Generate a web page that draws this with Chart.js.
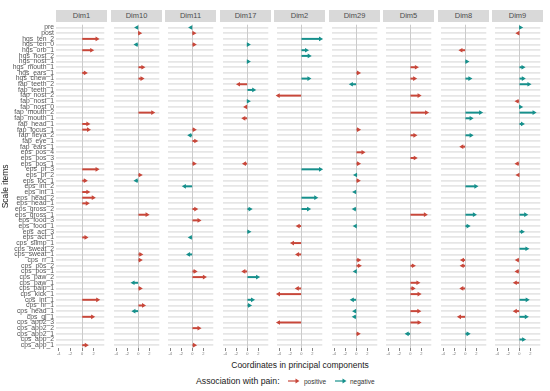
<!DOCTYPE html>
<html>
<head>
<meta charset="utf-8">
<script src="https://cdn.jsdelivr.net/npm/chart.js@4.4.1/dist/chart.umd.min.js"></script>
<style>
html,body{margin:0;padding:0;background:#fff;}
#root{position:relative;width:550px;height:391px;overflow:hidden;font-family:"Liberation Sans",Arial,sans-serif;}
#root canvas{position:absolute;}
.strip{position:absolute;top:10px;height:12px;width:51px;background:#d9d9d9;color:#4d4d4d;font-size:7.5px;line-height:12px;text-align:center;}
.txt{position:absolute;white-space:nowrap;}
</style>
</head>
<body>
<div id="root"></div>
<script>
// ---------- data ----------
const items = [
  "pre","post","hgs_ten_2","hgs_ten_0","hgs_orb_1","hgs_nost_2","hgs_nost_1","hgs_mouth_1","hgs_ears_1","hgs_chew_1",
  "fap_teeth_2","fap_teeth_1","fap_nost_2","fap_nost_1","fap_nost_0","fap_mouth_2","fap_mouth_1","fap_head_1","fap_focus_1","fap_fleya_2",
  "fap_eye_1","fap_ears_1","eps_pos_4","eps_pos_3","eps_pos_1","eps_pf_3","eps_pf_2","eps_loc_1","eps_int_2","eps_int_1",
  "eps_head_2","eps_head_1","eps_gross_2","eps_gross_1","eps_food_3","eps_food_1","eps_act_3","eps_act_1","cps_slimp_1","cps_sweat_2",
  "cps_sweat_1","cps_rr_1","cps_pos_2","cps_pos_1","cps_paw_2","cps_paw_1","cps_palp_1","cps_kick_1","cps_int_1","cps_hr_1",
  "cps_head_1","cps_gl_1","cps_app2_3","cps_app2_2","cps_app2_1","cps_app_2","cps_app_1"
];
const dims = ["Dim1","Dim10","Dim11","Dim17","Dim2","Dim29","Dim5","Dim8","Dim9"];
const xTicks = [-4, -2, 0, 2];
const legendLabels = ["positive", "negative"];

// [item, coordinate] pairs; "Positive" = positive association with pain, "Negative" = negative association
const dim1Positive = [["hgs_ten_2",2.55],["hgs_orb_1",1.63],["hgs_ears_1",0.54],["fap_head_1",0.98],["fap_focus_1",1.08],["eps_pf_3",2.55],["eps_loc_1",0.54],["eps_int_1",0.98],["eps_head_2",1.9],["eps_head_1",0.87],["eps_act_1",0.65],["cps_int_1",2.66],["cps_gl_1",1.79],["cps_app_1",0.7]];
const dim1Negative = [];
const dim10Positive = [["post",0.22],["hgs_mouth_1",0.81],["hgs_chew_1",0.65],["fap_mouth_2",2.6],["eps_pf_2",0.33],["eps_gross_1",1.57],["cps_sweat_1",0.43],["cps_rr_1",0.33],["cps_palp_1",0.33],["cps_hr_1",0.92]];
const dim10Negative = [["pre",-0.27],["hgs_ten_0",-0.38],["eps_loc_1",-0.38],["cps_paw_1",-0.92],["cps_head_1",-0.76]];
const dim11Positive = [["post",0.27],["hgs_ten_0",0.33],["fap_focus_1",0.33],["fap_eye_1",0.6],["eps_pos_1",0.33],["eps_gross_2",0.6],["eps_food_3",1.19],["cps_pos_1",0.49],["cps_paw_2",2.17],["cps_app2_2",1.19],["cps_app_1",0.38]];
const dim11Negative = [["pre",-0.27],["fap_fleya_2",-0.43],["eps_int_2",-1.41],["eps_act_1",-0.33],["cps_sweat_1",-0.65]];
const dim17Positive = [["fap_teeth_2",-1.57],["fap_nost_0",-0.27],["fap_mouth_1",-0.6],["eps_pos_1",-0.49],["cps_pos_1",-0.6]];
const dim17Negative = [["hgs_ten_0",0.16],["hgs_nost_1",0.16],["fap_teeth_1",1.14],["fap_nost_1",0.16],["eps_gross_2",0.49],["eps_act_3",0.27],["cps_paw_2",1.84],["cps_int_1",0.92],["cps_hr_1",0.38]];
const dim2Positive = [["fap_nost_2",-4.17],["eps_food_1",-0.54],["cps_slimp_1",-1.57],["cps_sweat_1",-0.65],["cps_palp_1",-0.7],["cps_kick_1",-4.12],["cps_app2_3",-4.12]];
const dim2Negative = [["hgs_ten_2",3.47],["hgs_orb_1",0.92],["hgs_nost_2",1.41],["hgs_chew_1",1.36],["eps_pf_3",3.47],["eps_head_2",2.6],["eps_gross_2",1.3]];
const dim29Positive = [["hgs_ears_1",0.38],["fap_focus_1",0.38],["eps_pos_4",1.19],["eps_pos_1",0.38],["eps_loc_1",0.33],["cps_rr_1",0.43],["cps_pos_2",0.54],["cps_app2_1",0.33]];
const dim29Negative = [["fap_teeth_2",-0.87],["eps_pf_2",-0.11],["eps_int_1",-0.27],["eps_gross_2",-0.33],["eps_food_1",-0.16],["cps_pos_1",-0.16],["cps_int_1",-0.7],["cps_head_1",-0.27],["cps_gl_1",-0.33]];
const dim5Positive = [["hgs_mouth_1",1.08],["hgs_chew_1",0.76],["fap_nost_2",1.57],["fap_mouth_2",2.93],["fap_fleya_2",0.81],["eps_pos_3",0.87],["eps_gross_1",2.71],["cps_pos_2",0.54],["cps_paw_1",1.36],["cps_palp_1",0.49],["cps_kick_1",1.57],["cps_head_1",1.52],["cps_app2_3",1.57]];
const dim5Negative = [["cps_app2_1",-0.54]];
const dim8Positive = [["hgs_orb_1",-0.76],["fap_ears_1",-0.6],["cps_rr_1",-0.49],["cps_pos_2",-0.54],["cps_palp_1",-0.6],["cps_gl_1",-1.03]];
const dim8Negative = [["hgs_nost_1",0.27],["hgs_chew_1",0.81],["fap_mouth_2",2.76],["fap_mouth_1",1.03],["fap_fleya_2",1.03],["eps_int_2",1.9],["eps_gross_1",1.63],["eps_food_1",0.49],["cps_app2_1",0.49]];
const dim9Positive = [["post",-0.22],["fap_nost_1",-0.38],["eps_pos_1",-0.38],["eps_pf_2",-0.22],["cps_rr_1",-0.33],["cps_pos_1",-0.38],["cps_paw_1",-0.7],["cps_head_1",-0.7]];
const dim9Negative = [["pre",0.22],["hgs_mouth_1",0.65],["hgs_chew_1",0.7],["fap_teeth_2",1.73],["fap_nost_0",0.22],["fap_mouth_2",2.66],["fap_head_1",0.54],["eps_gross_1",1.14],["eps_act_3",0.54],["cps_sweat_2",1.36],["cps_int_1",1.41],["cps_gl_1",1.25],["cps_app_2",0.76]];

const positiveByDim = [dim1Positive,dim10Positive,dim11Positive,dim17Positive,dim2Positive,dim29Positive,dim5Positive,dim8Positive,dim9Positive];
const negativeByDim = [dim1Negative,dim10Negative,dim11Negative,dim17Negative,dim2Negative,dim29Negative,dim5Negative,dim8Negative,dim9Negative];

// ---------- style ----------
const RED = '#c8473a', TEAL = '#16908c';
const FONT = "'Liberation Sans', Arial, sans-serif";
Chart.defaults.font.family = FONT;
const X_MIN = -4.47, X_MAX = 3.82;
const PANEL_W = 51, PLOT_TOP = 22, PLOT_H = 326, XAXIS_H = 8, YAXIS_W = 56;

const root = document.getElementById('root');

function barData(pairs){
  const arr = items.map(() => null);
  pairs.forEach(([k, v]) => {
    const i = items.indexOf(k);
    if (i < 0) console.error('unknown item', k);
    arr[i] = [0, v];
  });
  return arr;
}
function headData(pairs){ return pairs.map(([k, v]) => ({x: v, y: k})); }

function datasets(pos, neg){
  const mk = (pairs, color) => ([
    {type:'bar', data: barData(pairs), backgroundColor: color, borderWidth: 0, barThickness: 1.3, grouped: false, clip: false},
    {type:'line', indexAxis:'y', data: headData(pairs), showLine: false, pointStyle: 'triangle',
     pointRadius: 2.7, pointHoverRadius: 2.7, pointBorderWidth: 0,
     pointBackgroundColor: color, pointBorderColor: color,
     pointRotation: pairs.map(p => p[1] < 0 ? -90 : 90), clip: false}
  ]);
  return [...mk(pos, RED), ...mk(neg, TEAL)];
}

dims.forEach((name, d) => {
  const left = Math.round(56 + 54.5 * d);
  const first = d === 0;
  const strip = document.createElement('div');
  strip.className = 'strip';
  strip.style.left = left + 'px';
  strip.textContent = name;
  root.appendChild(strip);

  const cv = document.createElement('canvas');
  const w = first ? YAXIS_W + PANEL_W : PANEL_W;
  const h = PLOT_H + XAXIS_H;
  cv.width = w; cv.height = h;
  cv.style.width = w + 'px'; cv.style.height = h + 'px';
  cv.style.left = (first ? 0 : left) + 'px';
  cv.style.top = PLOT_TOP + 'px';
  root.appendChild(cv);

  new Chart(cv, {
    type: 'bar',
    data: { labels: items, datasets: datasets(positiveByDim[d], negativeByDim[d]) },
    options: {
      indexAxis: 'y',
      responsive: false, animation: false, devicePixelRatio: 1,
      layout: { padding: 0 },
      plugins: { legend: {display: false}, tooltip: {enabled: false} },
      events: [],
      scales: {
        x: {
          type: 'linear', min: X_MIN, max: X_MAX,
          afterBuildTicks: s => { s.ticks = xTicks.map(v => ({value: v})); },
          afterFit: s => { s.height = XAXIS_H; s.paddingLeft = 0; s.paddingRight = 0; },
          border: { display: false },
          grid: {
            color: c => (c.tick && c.tick.value === 0) ? '#cbcbcb' : 'rgba(0,0,0,0)',
            lineWidth: 1, drawTicks: true, tickLength: 3, tickColor: '#333', tickWidth: 0.6, z: -1
          },
          ticks: { font: {size: 4}, color: '#777', padding: 0, maxRotation: 0, autoSkip: false }
        },
        y: {
          type: 'category', labels: items, offset: true,
          afterFit: s => { s.width = first ? YAXIS_W : 0; s.paddingTop = 0; s.paddingBottom = 0; },
          border: { display: false },
          grid: { offset: false, color: '#e6e6e6', lineWidth: 1.8, drawTicks: false, z: -2 },
          ticks: { display: first, autoSkip: false, font: {size: 6.8}, color: '#555', padding: 2 },
          title: { display: first, text: 'Scale items', font: {size: 8.5}, color: '#1a1a1a', padding: {top: 1, bottom: 0} }
        }
      }
    }
  });
});

// axis title and legend as text
function addText(txt, css){
  const el = document.createElement('div');
  el.className = 'txt';
  el.textContent = txt;
  Object.assign(el.style, css);
  root.appendChild(el);
  return el;
}
addText('Coordinates in principal components', {left:'0px', width:'600px', top:'360px', textAlign:'center', fontSize:'8.5px', color:'#1a1a1a'});
addText('Association with pain:', {left:'196px', top:'376px', fontSize:'8.7px', color:'#1a1a1a'});
function addKey(x, color){
  const ns = 'http://www.w3.org/2000/svg';
  const svg = document.createElementNS(ns, 'svg');
  svg.setAttribute('width', '14'); svg.setAttribute('height', '8');
  svg.style.position = 'absolute'; svg.style.left = x + 'px'; svg.style.top = '377px';
  const ln = document.createElementNS(ns, 'line');
  ln.setAttribute('x1','1'); ln.setAttribute('y1','4'); ln.setAttribute('x2','10'); ln.setAttribute('y2','4');
  ln.setAttribute('stroke', color); ln.setAttribute('stroke-width','1.2');
  const pg = document.createElementNS(ns, 'polygon');
  pg.setAttribute('points','12.5,4 8.5,1.6 8.5,6.4'); pg.setAttribute('fill', color);
  svg.appendChild(ln); svg.appendChild(pg);
  root.appendChild(svg);
}
addKey(287, RED);
addText(legendLabels[0], {left:'304px', top:'377.5px', fontSize:'6.5px', color:'#333'});
addKey(334, TEAL);
addText(legendLabels[1], {left:'350px', top:'377.5px', fontSize:'6.5px', color:'#333'});
</script>
</body>
</html>
